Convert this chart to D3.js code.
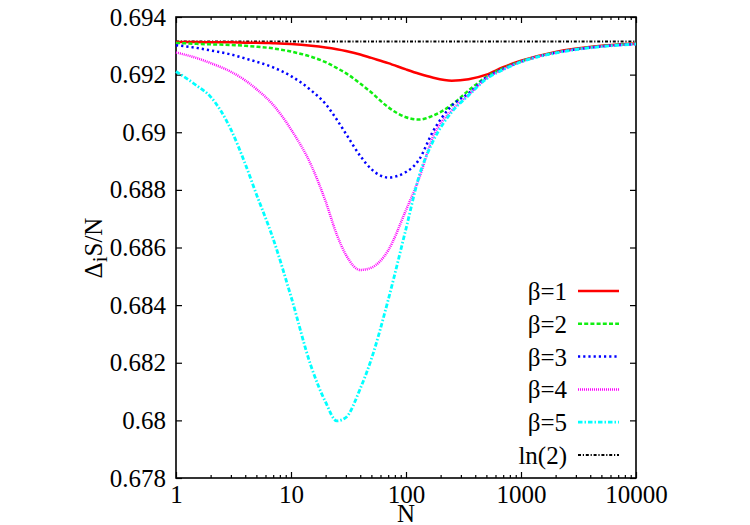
<!DOCTYPE html>
<html>
<head>
<meta charset="utf-8">
<script src="https://cdn.jsdelivr.net/npm/d3@7"></script>
<style>
  body { margin: 0; background: #fff; }
  svg text { font-family: "Liberation Serif", "Times New Roman", Times, serif !important; fill: #000; }
</style>
</head>
<body>
<svg id="chart"></svg>
<script>
const nValues = [1, 1.5, 2, 3, 4, 5, 7, 10, 15, 20, 25, 30, 40, 50, 70, 100, 130, 170, 250, 350, 500, 700, 1000, 2000, 5000, 10000];

const beta1 = [0.69313, 0.69313, 0.69312, 0.69312, 0.69311, 0.69311, 0.69309, 0.69306, 0.69300, 0.69294, 0.69288, 0.69282, 0.69270, 0.69258, 0.69240, 0.69218, 0.69203, 0.69190, 0.69179, 0.69184, 0.69200, 0.69226, 0.69248, 0.69279, 0.69300, 0.69308];
const beta2 = [0.69310, 0.69307, 0.69305, 0.69303, 0.69300, 0.69297, 0.69291, 0.69280, 0.69262, 0.69243, 0.69223, 0.69205, 0.69169, 0.69138, 0.69087, 0.69052, 0.69044, 0.69057, 0.69095, 0.69145, 0.69192, 0.69222, 0.69246, 0.69277, 0.69299, 0.69307];
const beta3 = [0.69302, 0.69293, 0.69284, 0.69270, 0.69256, 0.69245, 0.69225, 0.69195, 0.69145, 0.69098, 0.69044, 0.68995, 0.68918, 0.68872, 0.68843, 0.68862, 0.68905, 0.69000, 0.69092, 0.69135, 0.69190, 0.69220, 0.69245, 0.69276, 0.69298, 0.69306];
const beta4 = [0.69277, 0.69258, 0.69240, 0.69210, 0.69180, 0.69150, 0.69095, 0.69010, 0.68885, 0.68760, 0.68645, 0.68575, 0.68522, 0.68530, 0.68590, 0.68730, 0.68840, 0.68980, 0.69076, 0.69130, 0.69187, 0.69218, 0.69245, 0.69276, 0.69298, 0.69306];
const beta5 = [0.69211, 0.69163, 0.69123, 0.69010, 0.68890, 0.68785, 0.68630, 0.68430, 0.68186, 0.68063, 0.67998, 0.68010, 0.68110, 0.68213, 0.68418, 0.68665, 0.68848, 0.68965, 0.69070, 0.69128, 0.69185, 0.69217, 0.69244, 0.69275, 0.69297, 0.69306];
const ln2Value = 0.693147;

const seriesNames = ["β=1", "β=2", "β=3", "β=4", "β=5", "ln(2)"];
const xTicks = [1, 10, 100, 1000, 10000];
const yTicks = [0.678, 0.68, 0.682, 0.684, 0.686, 0.688, 0.69, 0.692, 0.694];

const FONT = '"Liberation Serif", "Times New Roman", Times, serif';

class EntropyChart {
  constructor(_config) {
    this.config = {
      parentElement: _config.parentElement,
      containerWidth: _config.containerWidth || 750,
      containerHeight: _config.containerHeight || 525,
      margin: { top: 17, bottom: 47, right: 114, left: 176 }
    };
    this.initVis();
  }

  initVis() {
    let vis = this;
    vis.width = vis.config.containerWidth - vis.config.margin.left - vis.config.margin.right;
    vis.height = vis.config.containerHeight - vis.config.margin.top - vis.config.margin.bottom;

    vis.xScale = d3.scaleLog().domain([1, 10000]).range([0, vis.width]);
    vis.yScale = d3.scaleLinear().domain([0.678, 0.694]).range([vis.height, 0]);

    vis.svg = d3.select(vis.config.parentElement)
      .attr('width', vis.config.containerWidth)
      .attr('height', vis.config.containerHeight)
      .attr('font-family', FONT);

    vis.chart = vis.svg.append('g')
      .attr('transform', `translate(${vis.config.margin.left},${vis.config.margin.top})`);

    // minor ticks 2..9 in every decade
    let minor = [];
    for (let d = 1; d < 10000; d *= 10) {
      for (let k = 2; k < 10; k++) minor.push(d * k);
    }

    const fmtY = v => String(+v.toFixed(3));

    // bottom + top axes (ticks pointing inside)
    vis.chart.append('g')
      .attr('class', 'axis x-axis')
      .attr('transform', `translate(0,${vis.height})`)
      .call(d3.axisBottom(vis.xScale).tickValues(xTicks).tickSize(-6).tickSizeOuter(0).tickPadding(7).tickFormat(d3.format('d')));
    vis.chart.append('g')
      .attr('transform', `translate(0,${vis.height})`)
      .call(d3.axisBottom(vis.xScale).tickValues(minor).tickSize(-3).tickSizeOuter(0).tickFormat(''));
    vis.chart.append('g')
      .call(d3.axisTop(vis.xScale).tickValues(xTicks).tickSize(-6).tickSizeOuter(0).tickFormat(''));
    vis.chart.append('g')
      .call(d3.axisTop(vis.xScale).tickValues(minor).tickSize(-3).tickSizeOuter(0).tickFormat(''));

    // left + right axes
    vis.chart.append('g')
      .attr('class', 'axis y-axis')
      .call(d3.axisLeft(vis.yScale).tickValues(yTicks).tickSize(-6).tickSizeOuter(0).tickPadding(10).tickFormat(fmtY));
    vis.chart.append('g')
      .attr('transform', `translate(${vis.width},0)`)
      .call(d3.axisRight(vis.yScale).tickValues(yTicks).tickSize(-6).tickSizeOuter(0).tickFormat(''));

    vis.chart.selectAll('.domain').remove();
    vis.chart.selectAll('g').attr('font-family', FONT);
    vis.chart.selectAll('.tick line').attr('stroke', '#000').attr('stroke-width', 1.2);
    vis.chart.selectAll('.tick text').style('font-size', '25px').style('font-family', FONT);

    vis.chart.append('rect')
      .attr('width', vis.width)
      .attr('height', vis.height)
      .attr('fill', 'none')
      .attr('stroke', '#000')
      .attr('stroke-width', 1.6);

    // curves
    vis.series = [
      { name: seriesNames[0], values: beta1, color: '#ff0000', dash: null, w: 2.5 },
      { name: seriesNames[1], values: beta2, color: '#11ee11', dash: '4,2.2', w: 2.5 },
      { name: seriesNames[2], values: beta3, color: '#0000ff', dash: '2.2,3', w: 2.5 },
      { name: seriesNames[3], values: beta4, color: '#ff00ff', dash: '1,1', w: 2.5 },
      { name: seriesNames[4], values: beta5, color: '#00ffff', dash: '4.5,2,1.5,2', w: 2.8 },
      { name: seriesNames[5], values: [ln2Value, ln2Value], ns: [1, 10000], color: '#000000', dash: '3,1.8,1.2,1.8', w: 2 }
    ];

    vis.line = d3.line()
      .x(d => vis.xScale(d.n))
      .y(d => vis.yScale(d.v))
      .curve(d3.curveMonotoneX);

    // draw ln(2) first so the curves sit on top of it
    const order = [5, 0, 1, 2, 3, 4];
    order.forEach(i => {
      let s = vis.series[i];
      let ns = s.ns || nValues;
      let pts = s.values.map((v, j) => ({ n: ns[j], v: v }));
      vis.chart.append('path')
        .datum(pts)
        .attr('fill', 'none')
        .attr('stroke', s.color)
        .attr('stroke-width', s.w)
        .attr('stroke-dasharray', s.dash)
        .attr('d', vis.line);
    });

    // legend
    let legend = vis.svg.append('g');
    vis.series.forEach((s, i) => {
      let yy = 291 + i * 32.8;
      legend.append('text')
        .attr('x', 567)
        .attr('y', yy + 9)
        .attr('text-anchor', 'end')
        .style('font-size', '25px')
        .style('font-family', FONT)
        .text(s.name);
      legend.append('line')
        .attr('x1', 578).attr('x2', 619)
        .attr('y1', yy).attr('y2', yy)
        .attr('stroke', s.color)
        .attr('stroke-width', s.w)
        .attr('stroke-dasharray', s.dash);
    });

    // axis labels
    vis.svg.append('text')
      .attr('x', vis.config.margin.left + vis.width / 2)
      .attr('y', 522)
      .attr('text-anchor', 'middle')
      .style('font-size', '25px')
      .style('font-family', FONT)
      .text('N');

    let yl = vis.svg.append('text')
      .attr('transform', 'translate(102,248) rotate(-90)')
      .attr('text-anchor', 'middle')
      .style('font-size', '25px')
      .style('font-family', FONT);
    yl.append('tspan').text('Δ');
    yl.append('tspan').attr('dy', 5).style('font-size', '21px').text('i');
    yl.append('tspan').attr('dy', -5).text('S/N');
  }
}

new EntropyChart({ parentElement: '#chart' });
</script>
</body>
</html>
